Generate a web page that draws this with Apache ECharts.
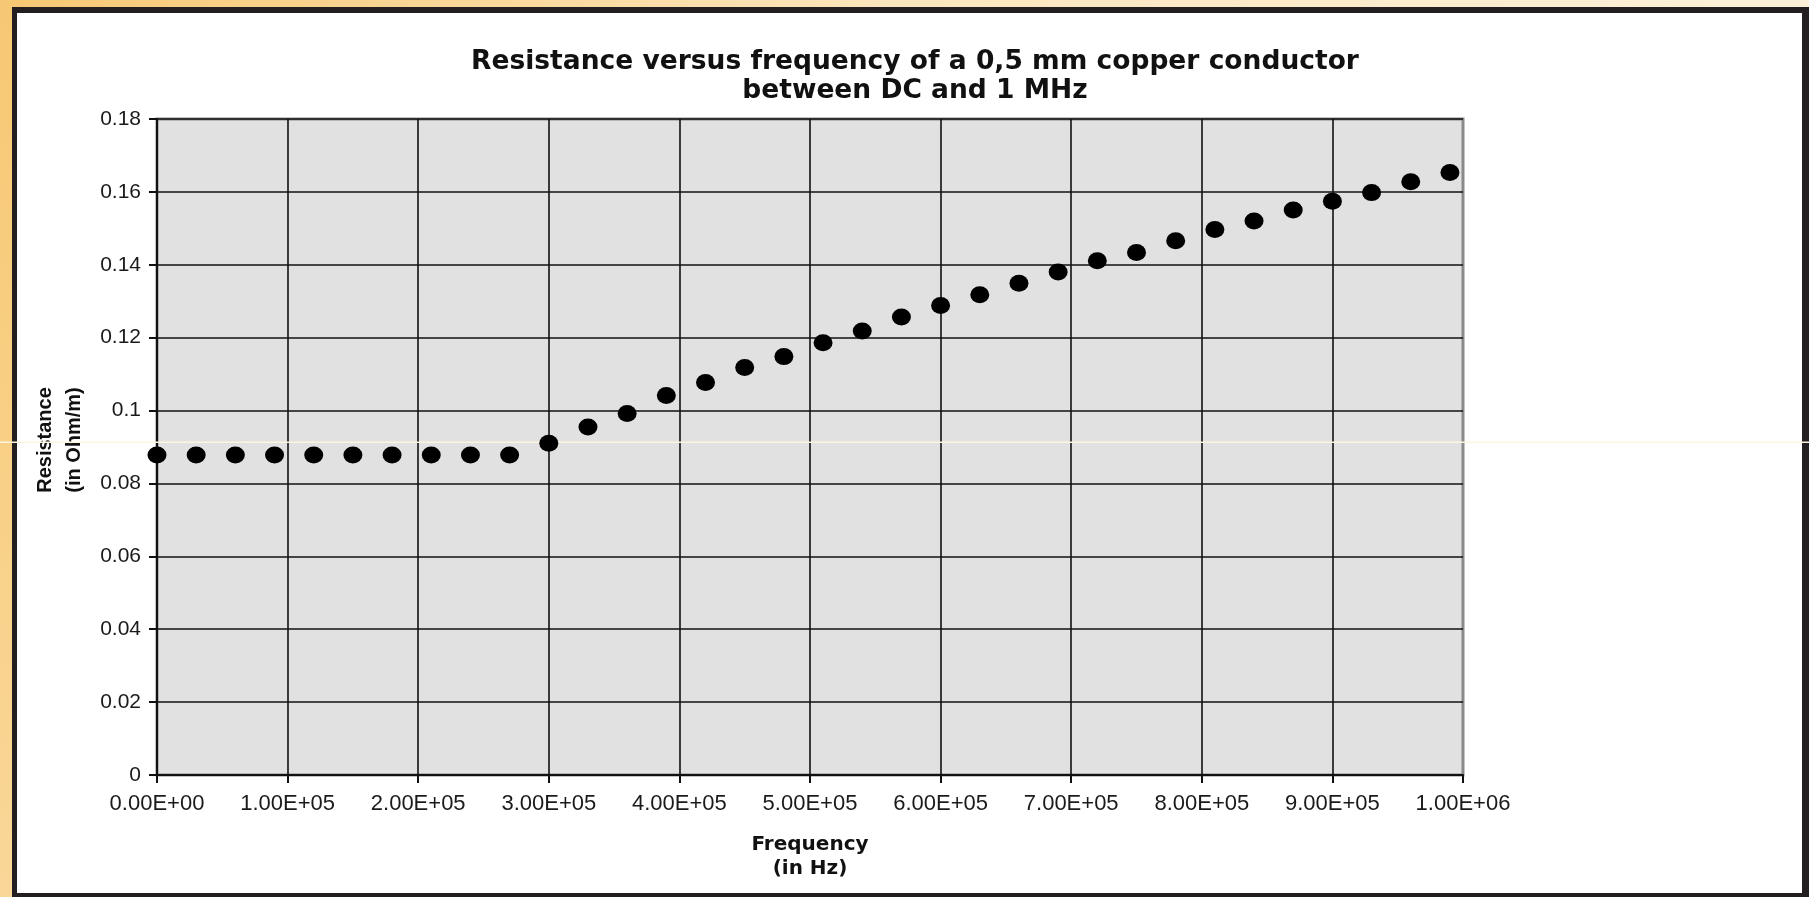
<!DOCTYPE html>
<html>
<head>
<meta charset="utf-8">
<script src="https://cdn.jsdelivr.net/npm/echarts@6/dist/echarts.min.js"></script>
<style>
html, body { margin: 0; padding: 0; background: #fff; }
#chart { width: 1809px; height: 897px; }
</style>
</head>
<body>
<div id="chart"></div>
<script>
// frequency of each measured point (Hz)
const freqHz = [
  0, 30000, 60000, 90000, 120000, 150000, 180000, 210000, 240000, 270000,
  300000, 330000, 360000, 390000, 420000, 450000, 480000, 510000, 540000, 570000,
  600000, 630000, 660000, 690000, 720000, 750000, 780000, 810000, 840000, 870000,
  900000, 930000, 960000, 990000
];
// resistance (Ohm/m)
const resistance = [
  0.0878, 0.0878, 0.0878, 0.0878, 0.0878, 0.0878, 0.0878, 0.0878, 0.0878, 0.0878,
  0.0910, 0.0955, 0.0992, 0.1041, 0.1077, 0.1118, 0.1148, 0.1186, 0.1218, 0.1257,
  0.1288, 0.1318, 0.1349, 0.1380, 0.1411, 0.1434, 0.1466, 0.1497, 0.1520, 0.1550,
  0.1574, 0.1598, 0.1628, 0.1653
];
const titleLines = ["Resistance versus frequency of a 0,5 mm copper conductor", "between DC and 1 MHz"];
const xName = "Frequency\n(in Hz)";
const yName = "Resistance\n(in Ohm/m)";

function sci(v) {
  if (v === 0) return "0.00E+00";
  const e = Math.floor(Math.log10(v) + 1e-9);
  const m = v / Math.pow(10, e);
  return m.toFixed(2) + "E+" + String(e).padStart(2, "0");
}

const points = freqHz.map((f, i) => [f, resistance[i]]);

const myChart = echarts.init(document.getElementById("chart"));
myChart.setOption({
  animation: false,
  backgroundColor: "#fff",
  graphic: [
    {
      type: "rect", z: -20, silent: true,
      shape: { x: 0, y: 0, width: 1809, height: 897 },
      style: {
        fill: new echarts.graphic.LinearGradient(0, 0, 1, 1, [
          { offset: 0, color: "#f7c873" },
          { offset: 0.4, color: "#fce6bd" },
          { offset: 1, color: "#fef6e8" }
        ])
      }
    },
    {
      type: "rect", z: -19, silent: true,
      shape: { x: 12, y: 7, width: 1797, height: 890 },
      style: { fill: "#231f20" }
    },
    {
      type: "rect", z: -18, silent: true,
      shape: { x: 17, y: 13, width: 1785, height: 880 },
      style: { fill: "#ffffff" }
    },
    {
      // faint scan line across the picture
      type: "rect", z: 1, silent: true,
      shape: { x: 0, y: 441.5, width: 1809, height: 1.5 },
      style: { fill: "#fff4df" }
    }
  ],
  title: {
    text: titleLines.join("\n"),
    left: 910,
    top: 43,
    textAlign: "center",
    textStyle: {
      fontFamily: "DejaVu Sans",
      fontWeight: "bold",
      fontSize: 26.5,
      lineHeight: 29,
      color: "#111"
    }
  },
  grid: {
    left: 157,
    top: 119,
    width: 1306,
    height: 656,
    show: true,
    backgroundColor: "#e1e1e1",
    borderColor: "#8a8a8a",
    borderWidth: 3
  },
  xAxis: {
    type: "value",
    min: 0,
    max: 1000000,
    interval: 100000,
    name: xName,
    nameLocation: "middle",
    nameGap: 58,
    nameTextStyle: {
      fontFamily: "DejaVu Sans",
      fontWeight: "bold",
      fontSize: 20,
      lineHeight: 24,
      color: "#111"
    },
    axisLine: { show: true, lineStyle: { color: "#111", width: 2 } },
    axisTick: { show: true, inside: false, length: 8, lineStyle: { color: "#111", width: 2 } },
    axisLabel: {
      formatter: sci,
      margin: 18,
      fontFamily: "Liberation Sans",
      fontSize: 22,
      color: "#1a1a1a"
    },
    splitLine: { show: true, showMaxLine: false, lineStyle: { color: "#111", width: 1.6 } }
  },
  yAxis: {
    type: "value",
    min: 0,
    max: 0.18,
    interval: 0.02,
    name: yName,
    nameLocation: "middle",
    nameGap: 65,
    nameTextStyle: {
      fontFamily: "Liberation Sans",
      fontWeight: "bold",
      fontSize: 20,
      lineHeight: 29,
      color: "#111",
      padding: [0, 0, 0, 14]
    },
    axisLine: { show: true, lineStyle: { color: "#111", width: 2 } },
    axisTick: { show: true, inside: false, length: 8, lineStyle: { color: "#111", width: 2 } },
    axisLabel: {
      formatter: (v) => String(+v.toFixed(2)),
      margin: 16,
      fontFamily: "Liberation Sans",
      fontSize: 21,
      color: "#1a1a1a"
    },
    splitLine: { show: true, lineStyle: { color: "#111", width: 1.6 } }
  },
  series: [
    {
      type: "scatter",
      z: 5,
      symbol: "circle",
      symbolSize: [19, 17],
      itemStyle: { color: "#000", opacity: 1 },
      data: points
    }
  ]
});
</script>
</body>
</html>
